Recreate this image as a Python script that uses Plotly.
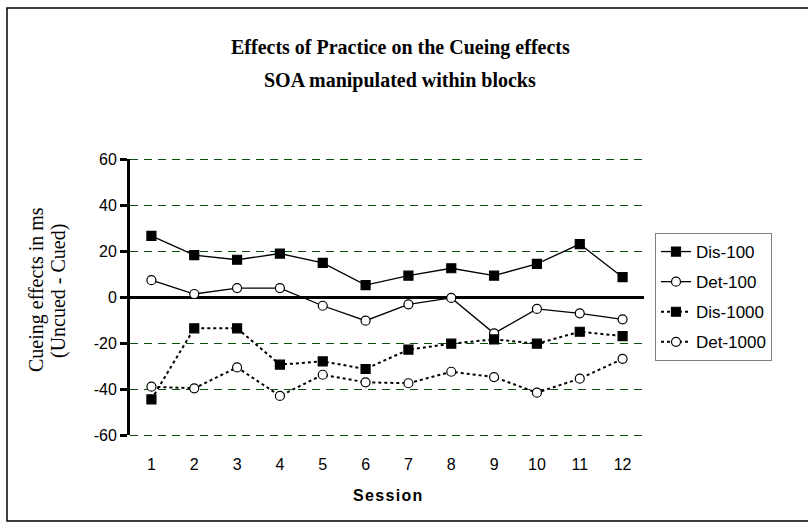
import plotly.graph_objects as go

sessions = list(range(1, 13))
tick_labels = [str(s) for s in sessions]
y_ticks = [-60, -40, -20, 0, 20, 40, 60]
y_tick_labels = ["-60", "-40", "-20", "0", "20", "40", "60"]

dis_100 = [26.6, 18.2, 16.2, 18.9, 14.8, 5.2, 9.3, 12.5, 9.3, 14.4, 23.0, 8.6]
det_100 = [7.3, 1.3, 3.9, 3.9, -3.8, -10.3, -3.2, -0.4, -15.8, -5.2, -7.1, -9.7]
dis_1000 = [-44.5, -13.6, -13.6, -29.4, -28.0, -31.3, -22.9, -20.3, -18.4, -20.3, -15.1, -17.0]
det_1000 = [-39.0, -39.7, -30.6, -43.0, -33.8, -37.1, -37.5, -32.5, -34.8, -41.6, -35.5, -26.9]

series = [
    ("Dis-100", dis_100, "solid", "square", "black"),
    ("Det-100", det_100, "solid", "circle", "white"),
    ("Dis-1000", dis_1000, "dot", "square", "black"),
    ("Det-1000", det_1000, "dot", "circle", "white"),
]

# plot-area geometry in pixels
W, H = 808, 527
L, R, T, B = 130, 644, 159, 435
pw, ph = R - L, B - T
y_lo, y_hi = -60, 60

def px_x(p):
    return (p - L) / pw

def px_y(p):
    return (B - p) / ph

fig = go.Figure()

# dashed green gridlines (not at zero, which is the category axis);
# placed in paper units (unclipped) with a half-pixel nudge for crisp 1px lines
for v in y_ticks:
    if v == 0:
        continue
    yp = (v - y_lo) / (y_hi - y_lo) - 0.5 / ph
    fig.add_shape(type="line", xref="paper", yref="paper", x0=0, x1=1, y0=yp, y1=yp,
                  line=dict(color="#0b4f0b", width=1, dash="8px,6px"), layer="below")

for name, vals, dash, sym, fill in series:
    fig.add_trace(go.Scatter(
        x=sessions, y=vals, name=name, mode="lines+markers",
        legendgroup=name,
        line=dict(color="black", width=1.3 if dash == "solid" else 2, dash=dash),
        marker=dict(symbol=sym, size=9, color=fill,
                    line=dict(color="black", width=1.2)),
    ))

fig.update_layout(
    width=W, height=H,
    margin=dict(l=L, r=W - R, t=T, b=H - B, autoexpand=False),
    paper_bgcolor="white", plot_bgcolor="white",
    showlegend=True,
    legend=dict(
        x=px_x(655), y=px_y(233), xanchor="left", yanchor="top",
        bordercolor="#808080", borderwidth=1, bgcolor="white",
        font=dict(family="Liberation Sans, Arial", size=17, color="black"),
        tracegroupgap=5, itemwidth=30,
    ),
    font=dict(family="Liberation Sans, Arial", color="black"),
)

fig.update_xaxes(
    range=[0.5, 12.5], tickmode="array", tickvals=sessions, ticktext=tick_labels,
    showgrid=False, zeroline=False, showline=False,
    ticks="outside", ticklen=0, ticklabelstandoff=15,
    tickfont=dict(family="Liberation Sans, Arial", size=16, color="black"),
)
fig.update_yaxes(
    range=[y_lo, y_hi], tickmode="array", tickvals=y_ticks, ticktext=y_tick_labels,
    showgrid=False,
    zeroline=True, zerolinecolor="black", zerolinewidth=3,
    showline=True, linecolor="black", linewidth=3,
    ticks="outside", ticklen=7, tickwidth=3, tickcolor="black",
    tickfont=dict(family="Liberation Sans, Arial", size=16, color="black"),
)

# outer chart border (right edge lies beyond the visible page)
fig.add_shape(type="rect", xref="paper", yref="paper",
              x0=px_x(7), x1=px_x(820), y0=px_y(521), y1=px_y(8),
              line=dict(color="black", width=1.5), fillcolor="rgba(0,0,0,0)", layer="below")

# title (two lines)
title_font = dict(family="Liberation Serif, Times New Roman", size=20, color="black")
fig.add_annotation(x=px_x(400), y=px_y(47), xref="paper", yref="paper",
                   text="<b>Effects of Practice on the Cueing effects</b>",
                   showarrow=False, xanchor="center", yanchor="middle", font=title_font)
fig.add_annotation(x=px_x(400), y=px_y(80), xref="paper", yref="paper",
                   text="<b>SOA manipulated within blocks</b>",
                   showarrow=False, xanchor="center", yanchor="middle", font=title_font)

# y axis title (two lines)
ytitle_font = dict(family="Liberation Serif, Times New Roman", size=20, color="black")
fig.add_annotation(x=px_x(36), y=px_y(290), xref="paper", yref="paper",
                   text="Cueing effects in ms", textangle=-90,
                   showarrow=False, xanchor="center", yanchor="middle", font=ytitle_font)
fig.add_annotation(x=px_x(58), y=px_y(291), xref="paper", yref="paper",
                   text="(Uncued - Cued)", textangle=-90,
                   showarrow=False, xanchor="center", yanchor="middle", font=ytitle_font)

# x axis title
fig.add_annotation(
    x=px_x(387), y=px_y(495), xref="paper", yref="paper",
    text="<b>" + "\u200a".join("Session") + "</b>",
    showarrow=False, xanchor="center", yanchor="middle",
    font=dict(family="Liberation Sans, Arial", size=16, color="black"),
)

fig.write_html("out.html", config={"displayModeBar": False},
               post_script="document.body.style.margin='0';")
